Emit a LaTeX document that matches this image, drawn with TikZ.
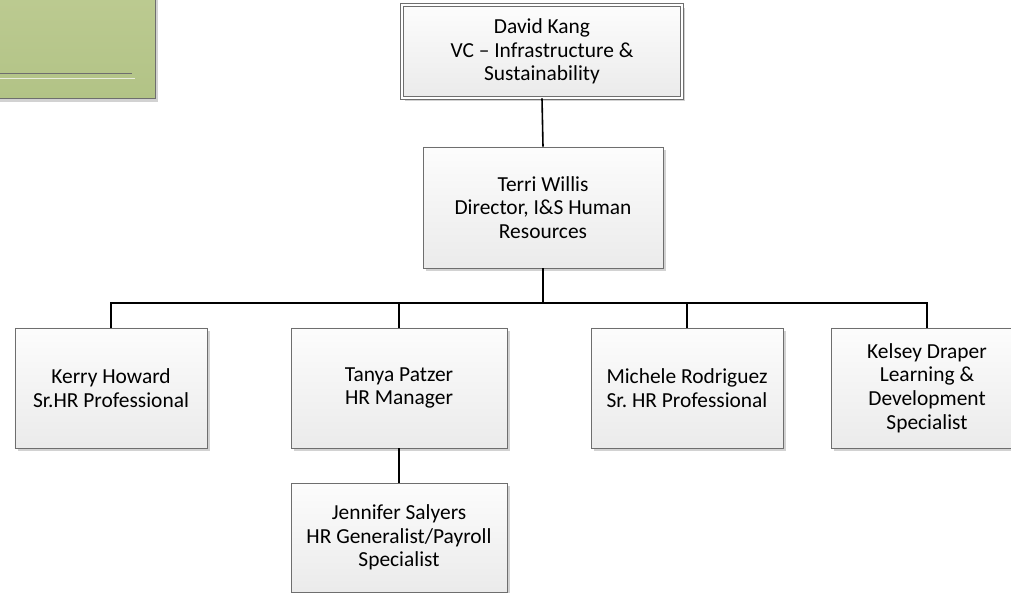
\documentclass[tikz,border=0pt]{standalone}
\usepackage{fontspec}
\setmainfont{Carlito}
\usetikzlibrary{shadows}
\definecolor{boxline}{HTML}{6E6E6E}
\definecolor{greentop}{HTML}{BDCB92}
\definecolor{greenbot}{HTML}{B2C386}
\begin{document}
\begin{tikzpicture}[x=1bp,y=-1bp,
  person/.style={draw=boxline, line width=0.9bp, top color=gray!2, bottom color=gray!16,
    drop shadow={shadow xshift=3bp, shadow yshift=-3bp, fill=gray!35, opacity=1},
    align=center, font=\fontsize{21.5}{23.8}\selectfont, inner sep=0pt},
  link/.style={line width=1.6bp, black}]
\useasboundingbox (0,0) rectangle (1011,593);

% title box, empty
\node (title) at (70,41.5)[draw=boxline, line width=1bp, top color=greentop, bottom color=greenbot,
  drop shadow={shadow xshift=3bp, shadow yshift=-3bp, fill=gray!35, opacity=1},
  minimum width=170bp, minimum height=115bp]{};
\draw[boxline, line width=1bp] (title.west |- 0,74) -- (132,74);
\draw[white!70!greenbot, line width=0.6bp] (title.west |- 0,78) -- (135,78);

\node (david) at (542,51.5)[person, double=white, double distance=2.5bp,
  minimum width=280bp, minimum height=93bp]{David Kang\\VC -- Infrastructure \&\\Sustainability};
\node (terri) at (543,207.5)[person, minimum width=240bp, minimum height=121bp]{Terri Willis\\Director, I\&S Human\\Resources};

\node (kerry) at (111,388)[person, minimum width=192bp, minimum height=120bp]{Kerry Howard\\Sr.HR Professional};
\node (tanya) at (399,388)[person, minimum width=216bp, minimum height=120bp]{Tanya Patzer\\HR Manager};
\node (michele) at (687,388)[person, minimum width=192bp, minimum height=120bp]{Michele Rodriguez\\Sr.\ HR Professional};
\node (kelsey) at (927,388)[person, minimum width=192bp, minimum height=120bp]{Kelsey Draper\\Learning \&\\Development\\Specialist};
\node (jennifer) at (399,537.5)[person, minimum width=216bp, minimum height=109bp]{Jennifer Salyers\\HR Generalist/Payroll\\Specialist};

\coordinate (bus) at (543,303);
\draw[link] (david.south) -- (terri.north);
\draw[link] (terri.south) -- (bus);
\draw[link] (kerry.north) |- (bus) -| (kelsey.north);
\draw[link] (tanya.north) -- (tanya.north |- bus);
\draw[link] (michele.north) -- (michele.north |- bus);
\draw[link] (tanya.south) -- (jennifer.north);
\end{tikzpicture}
\end{document}
